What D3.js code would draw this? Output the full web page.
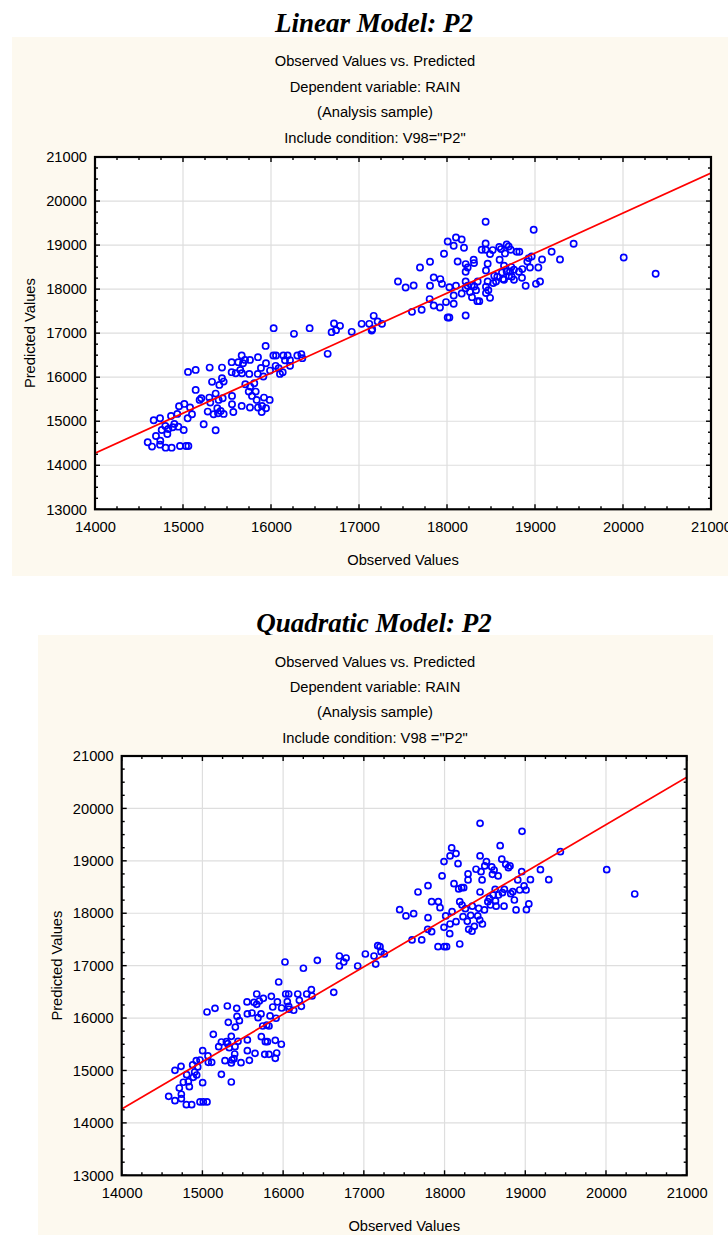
<!DOCTYPE html>
<html>
<head>
<meta charset="utf-8">
<script src="https://cdn.jsdelivr.net/npm/d3@7"></script>
<style>
  body { margin: 0; background: #ffffff; }
  svg { display: block; }
</style>
</head>
<body>
<svg id="chart" width="728" height="1235"></svg>
<script>
// ---- Axis ticks ----
const xTicks = [14000, 15000, 16000, 17000, 18000, 19000, 20000, 21000];
const yTicks = [13000, 14000, 15000, 16000, 17000, 18000, 19000, 20000, 21000];

// ---- Chart texts ----
const linearTitle = "Linear Model: P2";
const quadTitle = "Quadratic Model: P2";
const linearSubtitles = ["Observed Values vs. Predicted", "Dependent variable: RAIN", "(Analysis sample)", "Include condition: V98=\"P2\""];
const quadSubtitles = ["Observed Values vs. Predicted", "Dependent variable: RAIN", "(Analysis sample)", "Include condition: V98 =\"P2\""];
const xTitle = "Observed Values";
const yTitle = "Predicted Values";

// ---- Linear model: observed vs predicted ----
const linearObserved = [
  16030, 16261, 16439, 16689, 16716, 16739, 16784, 16917, 17030, 17117, 17144, 17150, 17167, 17212, 17261, 16644,
  17443, 17530, 17621, 17602, 17712, 17693, 17807, 17807, 17803, 17849, 17849, 17920, 17924, 17943, 17966, 17989,
  18008, 18008, 18027, 18027, 18076, 18076, 18076, 18102, 18102, 18121, 18167, 18167, 18193, 18212, 18212, 18212,
  18212, 18235, 18212, 18235, 18261, 18280, 18284, 18303, 18307, 18310, 18330, 18345, 18367, 18349, 18394, 18439,
  18439, 18439, 18443, 18443, 18443, 18462, 18462, 18470, 18489, 18489, 18519, 18526, 18537, 18557, 18572, 18594,
  18598, 18614, 18625, 18636, 18648, 18659, 18648, 18678, 18678, 18701, 18705, 18716, 18724, 18735, 18731, 18761,
  18761, 18792, 18822, 18818, 18852, 18856, 18894, 18913, 18928, 18943, 18962, 18985, 19011, 19038, 19057, 19080,
  19189, 19284, 19439, 20008, 20371,
  14599, 14648, 14667, 14693, 14739, 14742, 14739, 14758, 14803, 14799, 14822, 14833, 14864, 14871, 14883, 14902,
  14935, 14947, 14955, 14966, 15008, 15015, 15034, 15061, 15053, 15057, 15080, 15102, 15144, 15144, 15189, 15208,
  15235, 15281, 15303, 15299, 15310, 15330, 15348, 15371, 15371, 15390, 15398, 15405, 15428, 15413, 15443, 15443,
  15451, 15462, 15462, 15553, 15553, 15557, 15557, 15572, 15599, 15628, 15651, 15667, 15670, 15667, 15682, 15705,
  15708, 15747, 15753, 15761, 15765, 15761, 15784, 15810, 15826, 15837, 15852, 15849, 15852, 15886, 15894, 15898,
  15913, 15920, 15939, 15943, 15943, 15985, 15989, 16027, 16057, 16053, 16087, 16102, 16133, 16140, 16159, 16189,
  16216, 16216, 16299, 16345, 16356
];
const linearPredicted = [
  17114, 16984, 17114, 17023, 17218, 17068, 17166, 17030, 17211, 17211, 17060, 17090, 17393, 17264, 17211, 16530,
  18174, 18037, 18082, 17484, 17530, 18492, 18621, 18075, 17773, 18264, 17627, 17582, 18227, 18120, 18802, 17705,
  19082, 17355, 17355, 18045, 18984, 17855, 17666, 18075, 19173, 18628, 19128, 17900, 18939, 18568, 18393, 18173,
  17400, 18492, 18022, 18075, 17932, 18082, 17818, 18667, 18591, 18060, 17977, 17727, 17727, 18174, 18893, 19530,
  19037, 18893, 18425, 18052, 17909, 18575, 18174, 17977, 17802, 18795, 18886, 18136, 18303, 18174, 18280, 18955,
  18666, 18909, 18378, 18227, 18212, 18811, 18530, 18401, 19014, 18968, 18295, 18401, 18893, 18280, 18500, 18212,
  18439, 18849, 18849, 18393, 18257, 18454, 18075, 18628, 18704, 18492, 18742, 19348, 18120, 18492, 18174, 18674,
  18849, 18674, 19030, 18718, 18348,
  14523, 14424, 15023, 14666, 15068, 14559, 14468, 14802, 14400, 14893, 14711, 14825, 15120, 14400, 14864, 14939,
  15166, 14877, 15341, 14439, 14802, 15393, 14439, 14439, 15068, 16120, 15310, 15159, 16166, 15711, 15484, 15523,
  14932, 15218, 16218, 15537, 15423, 15894, 15159, 15627, 14795, 15295, 15182, 15484, 15234, 15825, 16218, 15977,
  15523, 15900, 15166, 16341, 16114, 15575, 15386, 15211, 16091, 16341, 16166, 16491, 16091, 15348, 16318, 16393,
  15841, 15673, 16075, 16393, 15786, 15310, 15575, 15864, 15673, 15484, 16455, 16075, 15310, 16211, 15211, 15348,
  16014, 15537, 16711, 16318, 15295, 15484, 16150, 16491, 16491, 16257, 16205, 16075, 16114, 16491, 16386, 16491,
  16386, 16257, 16491, 16523, 16432
];

// ---- Quadratic model: observed vs predicted ----
const quadObserved = [
  14582, 14660, 14660, 14735, 14714, 14739, 14739, 14764, 14801, 14805, 14826, 14838, 14867, 14879, 14887, 14904,
  14924, 14929, 14942, 14970, 14970, 15003, 15003, 15011, 15057, 15057, 15069, 15073, 15115, 15135, 15156, 15202,
  15235, 15235, 15280, 15309, 15297, 15313, 15321, 15333, 15358, 15358, 15358, 15367, 15391, 15400, 15404, 15408,
  15425, 15429, 15441, 15458, 15478, 15553, 15557, 15557, 15557, 15582, 15614, 15639, 15652, 15673, 15673, 15689,
  15705, 15730, 15726, 15747, 15755, 15772, 15780, 15797, 15805, 15825, 15825, 15838, 15854, 15871, 15903, 15903,
  15912, 15920, 15929, 15945, 15982, 15978, 16023, 16032, 16052, 16069, 16069, 16073, 16131, 16181, 16201, 16226,
  16251, 16292, 16350, 16358, 16424, 16627, 16697, 16697, 16751, 16780, 16924, 17019, 17126, 17147, 17172, 17213,
  17254, 17200,
  17444, 17522, 17617, 17597, 17717, 17671, 17795, 17795, 17791, 17840, 17840, 17923, 17919, 17944, 17969, 17997,
  18025, 17993, 17993, 18014, 18064, 18068, 18068, 18088, 18117, 18093, 18142, 18142, 18167, 18175, 18188, 18188,
  18212, 18216, 18229, 18237, 18258, 18282, 18291, 18291, 18299, 18324, 18340, 18344, 18369, 18390, 18411, 18423,
  18436, 18440, 18440, 18440, 18452, 18465, 18469, 18498, 18494, 18519, 18536, 18556, 18568, 18585, 18593, 18602,
  18614, 18627, 18631, 18639, 18664, 18668, 18689, 18709, 18717, 18737, 18741, 18758, 18791, 18811, 18820, 18845,
  18865, 18886, 18907, 18931, 18956, 18960, 18985, 19010, 19014, 19044, 19064, 19188, 19291, 19435, 20009, 20356
];
const quadPredicted = [
  14507, 14424, 15003, 15080, 14666, 14546, 14462, 14775, 14347, 14919, 14786, 14691, 14347, 15105, 14870, 14971,
  15187, 14914, 15067, 14399, 15200, 14768, 15378, 14399, 14399, 16116, 15277, 15156, 15156, 15690, 16186, 15454,
  15543, 14926, 15187, 16230, 15549, 15511, 15919, 15435, 14780, 15652, 15143, 15200, 15225, 15314, 15454, 15829,
  16186, 16034, 15556, 15950, 15149, 16307, 15582, 15378, 16078, 15193, 16097, 16301, 15328, 16459, 16263, 16008,
  16326, 15645, 16078, 15849, 16377, 15309, 15549, 15868, 15549, 15309, 15849, 16040, 16415, 16211, 15576, 15232,
  15996, 15333, 16307, 16688, 16192, 15500, 17070, 16459, 16313, 16459, 16224, 16168, 16149, 16459, 16339, 16224,
  16950, 16459, 16541, 16421, 17102, 16491, 17184, 16993, 17070, 17146, 16993, 17222, 17184, 17031, 17381, 17266,
  17222, 17362,
  18068, 17948, 17992, 17490, 17490, 18405, 18526, 17916, 17694, 18220, 17649, 18220, 17362, 18106, 18711, 17362,
  17362, 18985, 17732, 17948, 17610, 19093, 17795, 19246, 18564, 18030, 19138, 17839, 18945, 18463, 18220, 17413,
  18487, 18157, 17934, 18487, 18087, 17846, 18750, 18635, 17694, 17961, 17656, 18134, 17750, 18839, 17948, 18094,
  17871, 19093, 19716, 18405, 18793, 18635, 17795, 18902, 18063, 18985, 18220, 18285, 18157, 18883, 18743, 18348,
  18825, 18457, 18234, 18134, 18711, 18348, 19290, 19031, 18393, 18134, 18457, 18934, 18869, 18902, 18374, 18412,
  18253, 18063, 18635, 18443, 18793, 19563, 18522, 18443, 18068, 18177, 18640, 18831, 18640, 19175, 18831, 18367
];

// ---- Fitted reference lines (observed range endpoints and predicted) ----
const fitObserved = [14000, 21000];
const linearFit = [14273, 20636];
const quadFit = [14265, 20594];

const svg = d3.select("#chart");
const sans = "'Liberation Sans', Arial, sans-serif";
const serif = "'Liberation Serif', 'Times New Roman', serif";

function drawPanel(cfg) {
  const g = svg.append("g");

  // main heading above the cream panel
  g.append("text")
    .attr("x", cfg.titleX).attr("y", cfg.titleY)
    .attr("text-anchor", "middle")
    .style("font-family", serif).style("font-weight", "bold").style("font-style", "italic")
    .style("font-size", "27px").attr("fill", "#000")
    .text(cfg.title);

  // cream panel
  g.append("rect")
    .attr("x", cfg.panel.x).attr("y", cfg.panel.y)
    .attr("width", cfg.panel.w).attr("height", cfg.panel.h)
    .attr("fill", "#fdf9ef");

  // subtitle lines
  g.selectAll("text.sub").data(cfg.subtitles).join("text")
    .attr("class", "sub")
    .attr("x", cfg.subX)
    .attr("y", (d, i) => cfg.subY[i])
    .attr("text-anchor", "middle")
    .style("font-family", sans).style("font-size", "14.7px").attr("fill", "#000")
    .text(d => d);

  const p = cfg.plot;
  const x = d3.scaleLinear().domain([14000, 21000]).range([p.left, p.right]);
  const y = d3.scaleLinear().domain([13000, 21000]).range([p.bottom, p.top]);

  // plot background
  g.append("rect")
    .attr("x", p.left).attr("y", p.top)
    .attr("width", p.right - p.left).attr("height", p.bottom - p.top)
    .attr("fill", "#ffffff");

  // grid
  g.append("g").selectAll("line").data(xTicks.slice(1, -1)).join("line")
    .attr("x1", d => x(d)).attr("x2", d => x(d))
    .attr("y1", p.top).attr("y2", p.bottom)
    .attr("stroke", "#dedede").attr("stroke-width", 1.2);
  g.append("g").selectAll("line").data(yTicks.slice(1, -1)).join("line")
    .attr("y1", d => y(d)).attr("y2", d => y(d))
    .attr("x1", p.left).attr("x2", p.right)
    .attr("stroke", "#dedede").attr("stroke-width", 1.2);

  // tick marks on all four sides, pointing inward
  const xMinor = d3.range(14000, 21001, 250);
  const yMinor = d3.range(13000, 21001, 250);
  const tickLen = v => (v % 1000 === 0 ? 5 : 3);
  const tk = g.append("g").attr("stroke", "#000").attr("stroke-width", 1.4);
  tk.selectAll("line.b").data(xMinor).join("line").attr("class", "b")
    .attr("x1", d => x(d)).attr("x2", d => x(d))
    .attr("y1", p.bottom).attr("y2", d => p.bottom - tickLen(d));
  tk.selectAll("line.t").data(xMinor).join("line").attr("class", "t")
    .attr("x1", d => x(d)).attr("x2", d => x(d))
    .attr("y1", p.top).attr("y2", d => p.top + tickLen(d));
  tk.selectAll("line.l").data(yMinor).join("line").attr("class", "l")
    .attr("y1", d => y(d)).attr("y2", d => y(d))
    .attr("x1", p.left).attr("x2", d => p.left + tickLen(d));
  tk.selectAll("line.r").data(yMinor).join("line").attr("class", "r")
    .attr("y1", d => y(d)).attr("y2", d => y(d))
    .attr("x1", p.right).attr("x2", d => p.right - tickLen(d));

  // tick labels via d3 axes
  const xAxis = g.append("g")
    .attr("transform", `translate(0,${p.bottom})`)
    .call(d3.axisBottom(x).tickValues(xTicks).tickSize(0).tickPadding(12).tickFormat(d3.format("d")));
  const yAxis = g.append("g")
    .attr("transform", `translate(${p.left},0)`)
    .call(d3.axisLeft(y).tickValues(yTicks).tickSize(0).tickPadding(8).tickFormat(d3.format("d")));
  [xAxis, yAxis].forEach(a => {
    a.select(".domain").remove();
    a.selectAll("text").style("font-family", sans).style("font-size", "14.7px").attr("fill", "#000");
  });

  // axis titles
  g.append("text")
    .attr("x", (p.left + p.right) / 2).attr("y", p.bottom + 55.5)
    .attr("text-anchor", "middle")
    .style("font-family", sans).style("font-size", "14.7px").attr("fill", "#000")
    .text(xTitle);
  g.append("text")
    .attr("transform", `translate(${p.left - 60},${(p.top + p.bottom) / 2}) rotate(-90)`)
    .attr("text-anchor", "middle")
    .style("font-family", sans).style("font-size", "14.7px").attr("fill", "#000")
    .text(yTitle);

  // clip for marks
  const clipId = cfg.id + "-clip";
  svg.append("clipPath").attr("id", clipId).append("rect")
    .attr("x", p.left).attr("y", p.top)
    .attr("width", p.right - p.left).attr("height", p.bottom - p.top);

  // points
  g.append("g").attr("clip-path", `url(#${clipId})`)
    .selectAll("circle").data(d3.range(cfg.obs.length)).join("circle")
    .attr("cx", i => x(cfg.obs[i]))
    .attr("cy", i => y(cfg.pred[i]))
    .attr("r", cfg.r)
    .attr("fill", "none").attr("stroke", "#0000ff").attr("stroke-width", 1.7);

  // fitted line
  const line = d3.line().x(i => x(fitObserved[i])).y(i => y(cfg.fit[i]));
  g.append("path").attr("clip-path", `url(#${clipId})`)
    .attr("d", line(d3.range(fitObserved.length)))
    .attr("fill", "none").attr("stroke", "#ff0000").attr("stroke-width", 1.7);

  // frame
  g.append("rect")
    .attr("x", p.left).attr("y", p.top)
    .attr("width", p.right - p.left).attr("height", p.bottom - p.top)
    .attr("fill", "none").attr("stroke", "#000").attr("stroke-width", 2.2);
}

drawPanel({
  id: "linear",
  title: linearTitle, titleX: 374, titleY: 31.5,
  panel: { x: 12, y: 37, w: 716, h: 539 },
  subtitles: linearSubtitles, subX: 375, subY: [66, 91.5, 117, 143],
  plot: { left: 95, top: 157, right: 711, bottom: 509.3 },
  obs: linearObserved, pred: linearPredicted, fit: linearFit, r: 3.1
});

drawPanel({
  id: "quad",
  title: quadTitle, titleX: 374, titleY: 631.5,
  panel: { x: 38, y: 635, w: 675, h: 600 },
  subtitles: quadSubtitles, subX: 375, subY: [666.5, 691.5, 717, 743],
  plot: { left: 121.7, top: 756, right: 686.7, bottom: 1175.3 },
  obs: quadObserved, pred: quadPredicted, fit: quadFit, r: 3
});
</script>
</body>
</html>
